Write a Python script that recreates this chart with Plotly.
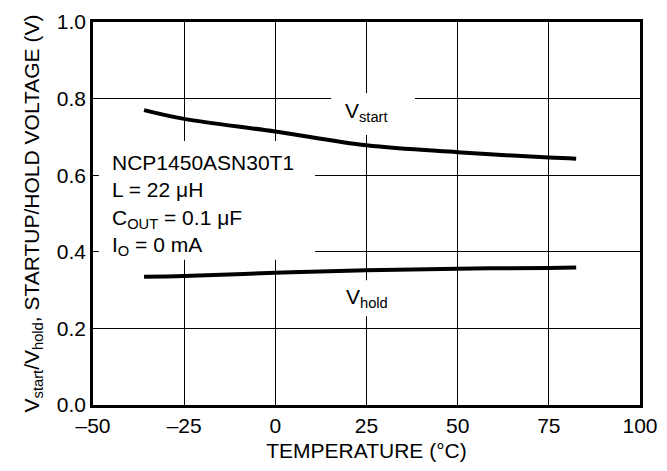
import plotly.graph_objects as go

# ---- data ----
temp_start = [-36, -25, 0, 25, 50, 75, 82.5]
v_start = [0.770, 0.747, 0.714, 0.678, 0.660, 0.646, 0.643]
temp_hold = [-36, -25, 0, 25, 50, 75, 82.5]
v_hold = [0.335, 0.337, 0.345, 0.352, 0.356, 0.358, 0.359]

x_tickvals = [-50, -25, 0, 25, 50, 75, 100]
x_ticktext = ["\u201350", "\u201325", "0", "25", "50", "75", "100"]
y_tickvals = [0.0, 0.2, 0.4, 0.6, 0.8, 1.0]
y_ticktext = ["0.0", "0.2", "0.4", "0.6", "0.8", "1.0"]

FONT = "Liberation Sans, Arial, Helvetica, sans-serif"
FS = 21

fig = go.Figure()
fig.add_trace(go.Scatter(x=temp_start, y=v_start, mode="lines",
                         line=dict(color="black", width=4, shape="spline"),
                         showlegend=False, hoverinfo="skip"))
fig.add_trace(go.Scatter(x=temp_hold, y=v_hold, mode="lines",
                         line=dict(color="black", width=4, shape="spline"),
                         showlegend=False, hoverinfo="skip"))

# white boxes masking grid lines behind labels
for (x0, x1, y0, y1) in [(-48.4, 10.9, 0.379, 0.689),
                         (15.3, 38.3, 0.705, 0.8146),
                         (15.3, 38.3, 0.232, 0.326)]:
    fig.add_shape(type="rect", xref="x", yref="y", x0=x0, x1=x1, y0=y0, y1=y1,
                  fillcolor="white", line=dict(width=0), layer="above")

fig.add_annotation(x=-45.3, y=0.522, xref="x", yref="y", xanchor="left", yanchor="middle",
                   align="left", showarrow=False,
                   text="NCP1450ASN30T1<br>L = 22 \u03bcH<br>C<sub>OUT</sub> = 0.1 \u03bcF<br>I<sub>O</sub> = 0 mA",
                   font=dict(family=FONT, size=FS, color="black"))
fig.add_annotation(x=25, y=0.765, xref="x", yref="y", showarrow=False,
                   text="V<sub>start</sub>", font=dict(family=FONT, size=FS, color="black"))
fig.add_annotation(x=25, y=0.28, xref="x", yref="y", showarrow=False,
                   text="V<sub>hold</sub>", font=dict(family=FONT, size=FS, color="black"))

fig.update_layout(
    width=667, height=471,
    margin=dict(l=85, r=35, t=14, b=74),
    paper_bgcolor="white", plot_bgcolor="white",
    font=dict(family=FONT, size=FS, color="black"),
    xaxis=dict(range=[-50, 100], tickvals=x_tickvals, ticktext=x_ticktext,
               automargin=False,
               showgrid=True, gridcolor="black", gridwidth=1,
               showline=True, linecolor="black", linewidth=2.5, mirror=True,
               ticks="inside", ticklen=5, tickcolor="black", zeroline=False,
               title=dict(text="TEMPERATURE (\u00b0C)", standoff=8,
                          font=dict(family=FONT, size=FS))),
    yaxis=dict(range=[0, 1.0], tickvals=y_tickvals, ticktext=y_ticktext,
               automargin=False,
               showgrid=True, gridcolor="black", gridwidth=1,
               showline=True, linecolor="black", linewidth=2.5, mirror=True,
               ticks="inside", ticklen=5, tickcolor="black", zeroline=False,
               title=dict(text="V<sub>start</sub>/V<sub>hold</sub>, STARTUP/HOLD VOLTAGE (V)",
                          standoff=12, font=dict(family=FONT, size=FS))),
)

fig.write_html("out.html")
